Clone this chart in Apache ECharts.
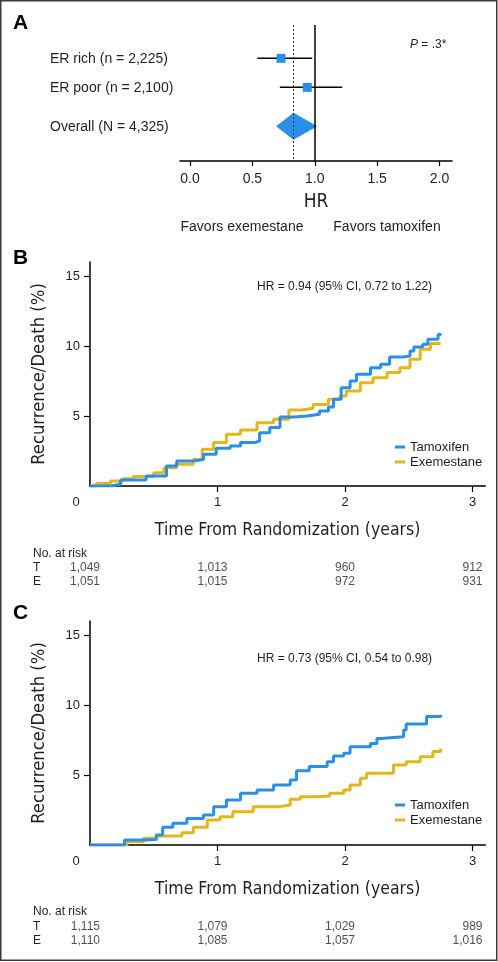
<!DOCTYPE html>
<html><head><meta charset="utf-8">
<script src="https://cdn.jsdelivr.net/npm/echarts@6/dist/echarts.min.js"></script>
<style>html,body{margin:0;padding:0;background:#fff}#c{width:498px;height:962px}</style>
</head><body><div id="c"></div>
<script>
// ---- Panel A data (forest plot) ----
const forestLabels = ['ER rich (n = 2,225)', 'ER poor (n = 2,100)', 'Overall (N = 4,325)'];
const forestHR = [0.73, 0.94, 0.83];
const forestLo = [0.54, 0.72, 0.69];
const forestHi = [0.98, 1.22, 1.02];
const forestIsOverall = [0, 0, 1];
const forestTicks = [0, 0.5, 1, 1.5, 2];
const overallHR = 0.83;
const pText = '= .3*';

// ---- Panel B data (ER poor) ----
const bTamoxifen = [[0,0],[0.16,0.12],[0.24,0.43],[0.44,0.71],[0.6,1.43],[0.68,1.79],[0.81,1.9],[0.89,2.26],[0.99,2.69],[1.1,2.86],[1.18,3.1],[1.29,3.21],[1.33,3.81],[1.41,4.17],[1.49,4.93],[1.6,5.0],[1.7,5.12],[1.8,5.36],[1.87,5.64],[1.91,6.19],[1.97,7.02],[2.04,7.5],[2.09,7.98],[2.2,8.45],[2.28,8.69],[2.35,9.21],[2.46,9.29],[2.51,9.64],[2.54,9.93],[2.61,10.12],[2.65,10.48],[2.73,10.83],[2.75,10.9]];
const bExemestane = [[0,0],[0.05,0.17],[0.16,0.36],[0.26,0.52],[0.34,0.67],[0.5,0.95],[0.58,1.31],[0.68,1.55],[0.81,1.9],[0.88,2.62],[0.97,3.1],[1.07,3.69],[1.18,4.0],[1.31,4.52],[1.44,4.76],[1.56,5.43],[1.66,5.55],[1.75,5.83],[1.87,6.19],[1.96,6.43],[2.01,6.79],[2.12,7.38],[2.22,7.74],[2.33,8.1],[2.43,8.45],[2.51,9.05],[2.59,9.76],[2.67,10.17],[2.75,10.2]];
const bHRText = 'HR = 0.94 (95% CI, 0.72 to 1.22)';
const bRiskT = ['1,049', '1,013', '960', '912'];
const bRiskE = ['1,051', '1,015', '972', '931'];

// ---- Panel C data (ER rich) ----
const cTamoxifen = [[0,0],[0.27,0.36],[0.42,0.4],[0.52,0.71],[0.57,1.26],[0.65,1.55],[0.76,1.9],[0.89,2.14],[0.97,2.74],[1.07,3.21],[1.18,3.69],[1.31,3.93],[1.44,4.29],[1.57,4.64],[1.62,5.3],[1.72,5.6],[1.86,5.95],[1.91,6.36],[1.99,6.55],[2.04,7.02],[2.2,7.25],[2.25,7.6],[2.28,7.74],[2.46,8.21],[2.48,8.64],[2.64,9.17],[2.75,9.3]];
const cExemestane = [[0,0],[0.29,0.24],[0.42,0.48],[0.52,0.64],[0.72,0.88],[0.81,1.26],[0.92,1.79],[1.02,2.02],[1.12,2.38],[1.28,2.74],[1.49,2.86],[1.57,3.26],[1.65,3.45],[1.78,3.5],[1.88,3.69],[1.99,3.93],[2.04,4.29],[2.12,4.76],[2.17,5.12],[2.34,5.12],[2.38,5.71],[2.48,5.95],[2.59,6.31],[2.69,6.67],[2.75,6.9]];
const cHRText = 'HR = 0.73 (95% CI, 0.54 to 0.98)';
const cRiskT = ['1,115', '1,079', '1,029', '989'];
const cRiskE = ['1,110', '1,085', '1,057', '1,016'];

const riskTimes = [0, 1, 2, 3];
const yTicks = [5, 10, 15];
const xTicks = [0, 1, 2, 3];
const seriesNames = ['Tamoxifen', 'Exemestane'];

// ---- styling / layout ----
const BLUE = '#2b8fe8', YELLOW = '#e2b71c', INK = '#231f20';
const SANS = "'Liberation Sans', Arial, sans-serif";
const NARROW = "'Liberation Sans Narrow', 'DejaVu Sans Condensed', 'Liberation Sans', sans-serif";
const ROWS = [1, 2, 3.34];
const PX_PER_YEAR = 127.5;

const chart = echarts.init(document.getElementById('c'), null, {renderer: 'canvas'});

function kmXAxis(gi) {
  return {
    gridIndex: gi, type: 'value', min: 0, max: 3.1,
    axisLine: {onZero: false, lineStyle: {color: '#000', width: 1.5}},
    axisTick: {customValues: [1, 2, 3], length: 6, lineStyle: {color: '#000', width: 1.2}},
    axisLabel: {customValues: xTicks, fontSize: 13, color: INK, margin: 10,
      formatter: v => v === 0 ? '{o|0}' : String(v),
      rich: {o: {fontSize: 13, color: INK, padding: [0, 28, 0, 0]}}},
    splitLine: {show: false},
    name: 'Time From Randomization (years)', nameLocation: 'middle', nameGap: 35,
    nameTextStyle: {fontSize: 17.5, fontFamily: NARROW, color: INK}
  };
}
function kmYAxis(gi) {
  return {
    gridIndex: gi, type: 'value', min: 0, max: 16,
    axisLine: {onZero: false, lineStyle: {color: '#000', width: 1.5}},
    axisTick: {customValues: yTicks, length: 6, lineStyle: {color: '#000', width: 1.2}},
    axisLabel: {customValues: yTicks, fontSize: 13, color: INK, margin: 10},
    splitLine: {show: false},
    name: 'Recurrence/Death (%)', nameLocation: 'middle', nameGap: 42,
    nameTextStyle: {fontSize: 18.3, fontFamily: NARROW, color: INK}
  };
}
function riskXAxis(gi) {
  return {gridIndex: gi, type: 'value', min: 0, max: 3.1, show: false};
}
function riskYAxis(gi) {
  return {gridIndex: gi, type: 'category', data: ['T', 'E'], inverse: true,
    axisLine: {show: false}, axisTick: {show: false}, splitLine: {show: false},
    axisLabel: {interval: 0, align: 'left', margin: 57, fontSize: 12, color: INK}};
}
function kmLine(name, data, color, xi) {
  return {name, type: 'line', xAxisIndex: xi, yAxisIndex: xi, data, step: 'end',
    showSymbol: false, symbol: 'none', color, lineStyle: {color, width: 3},
    silent: true, z: name === 'Tamoxifen' ? 4 : 3};
}
function riskSeries(vals, row, xi) {
  return {type: 'scatter', xAxisIndex: xi, yAxisIndex: xi, symbolSize: 0, silent: true,
    data: riskTimes.map((t, i) => [t, row, vals[i]]),
    label: {show: true, position: 'inside', align: 'right', verticalAlign: 'middle',
      offset: [10, 0], fontSize: 12, color: INK, formatter: p => p.value[2]}};
}
function legendAt(top) {
  return {data: seriesNames, orient: 'vertical', left: 395, top, padding: 0, itemWidth: 10, itemHeight: 3,
    itemGap: 2, icon: 'rect', textStyle: {fontSize: 13, color: INK}, selectedMode: false};
}

const option = {
  animation: false,
  textStyle: {fontFamily: SANS, color: INK},
  grid: [
    {left: 180, top: 25, width: 272, height: 136, outerBoundsMode: 'none'},
    {left: 90, top: 262, width: 3.1 * PX_PER_YEAR, height: 224, outerBoundsMode: 'none'},
    {left: 90, top: 621, width: 3.1 * PX_PER_YEAR, height: 224, outerBoundsMode: 'none'},
    {left: 90, top: 561, width: 3.1 * PX_PER_YEAR, height: 28, outerBoundsMode: 'none'},
    {left: 90, top: 920, width: 3.1 * PX_PER_YEAR, height: 28, outerBoundsMode: 'none'}
  ],
  xAxis: [
    {gridIndex: 0, type: 'value', min: -0.08, max: 2.1, position: 'bottom',
      axisLine: {onZero: false, lineStyle: {color: '#000', width: 1.5}},
      axisTick: {customValues: forestTicks, length: 5, lineStyle: {color: '#000', width: 1.2}},
      axisLabel: {customValues: forestTicks, fontSize: 14, color: INK, margin: 11, formatter: v => v.toFixed(1)},
      splitLine: {show: false},
      name: 'HR', nameLocation: 'middle', nameGap: 32,
      nameTextStyle: {fontSize: 19, fontFamily: NARROW, color: INK}},
    kmXAxis(1), kmXAxis(2), riskXAxis(3), riskXAxis(4)
  ],
  yAxis: [
    {gridIndex: 0, type: 'value', inverse: true, min: -0.15, max: 4.54, show: false},
    kmYAxis(1), kmYAxis(2), riskYAxis(3), riskYAxis(4)
  ],
  legend: [legendAt(440.5), legendAt(798.5)],
  series: [
    {type: 'custom', xAxisIndex: 0, yAxisIndex: 0, clip: false, silent: true,
      data: forestHR.map((hr, i) => [hr, ROWS[i], forestLo[i], forestHi[i], forestIsOverall[i], i]),
      encode: {x: 0, y: 1},
      renderItem: function (params, api) {
        const row = api.value(1);
        const c = api.coord([api.value(0), row]);
        const l = api.coord([api.value(2), row]);
        const h = api.coord([api.value(3), row]);
        const idx = api.value(5);
        const children = [{type: 'text', x: 50, y: c[1] + 1,
          style: {text: forestLabels[idx], font: '14px ' + SANS, fill: INK, align: 'left', verticalAlign: 'middle'}}];
        if (api.value(4) === 1) {
          children.push({type: 'polygon', shape: {points: [[l[0], c[1]], [c[0], c[1] - 13.5], [h[0], c[1]], [c[0], c[1] + 13.5]]},
            style: {fill: BLUE}});
        } else {
          children.push({type: 'line', shape: {x1: l[0], y1: c[1], x2: h[0], y2: c[1]}, style: {stroke: '#000', lineWidth: 1.5}});
          children.push({type: 'rect', shape: {x: c[0] - 4.5, y: c[1] - 4.5, width: 9, height: 9}, style: {fill: BLUE}});
        }
        return {type: 'group', children};
      },
      markLine: {silent: true, symbol: 'none', label: {show: false},
        data: [
          {xAxis: 1, lineStyle: {color: '#000', width: 1.5, type: 'solid'}},
          {xAxis: overallHR, lineStyle: {color: '#333', width: 1, type: [2, 2]}}
        ]}
    },
    kmLine('Exemestane', bExemestane, YELLOW, 1),
    kmLine('Tamoxifen', bTamoxifen, BLUE, 1),
    kmLine('Exemestane', cExemestane, YELLOW, 2),
    kmLine('Tamoxifen', cTamoxifen, BLUE, 2),
    riskSeries(bRiskT, 'T', 3), riskSeries(bRiskE, 'E', 3),
    riskSeries(cRiskT, 'T', 4), riskSeries(cRiskE, 'E', 4)
  ],
  graphic: [
    {type: 'rect', shape: {x: 0.75, y: 0.75, width: 496, height: 959.5}, style: {fill: 'none', stroke: '#3a3a3a', lineWidth: 1.5}, silent: true},
    {type: 'text', x: 13, y: 23, style: {text: 'A', font: 'bold 21px ' + SANS, fill: '#000', verticalAlign: 'middle'}},
    {type: 'text', x: 13, y: 258, style: {text: 'B', font: 'bold 21px ' + SANS, fill: '#000', verticalAlign: 'middle'}},
    {type: 'text', x: 13, y: 613, style: {text: 'C', font: 'bold 21px ' + SANS, fill: '#000', verticalAlign: 'middle'}},
    {type: 'text', x: 410, y: 45, style: {text: '{i|P} {n|' + pText + '}', fill: INK, verticalAlign: 'middle',
      rich: {i: {fontStyle: 'italic', fontSize: 12, fontFamily: SANS, fill: INK}, n: {fontSize: 12, fontFamily: SANS, fill: INK}}}},
    {type: 'text', x: 242, y: 227, style: {text: 'Favors exemestane', font: '14px ' + SANS, fill: INK, align: 'center', verticalAlign: 'middle'}},
    {type: 'text', x: 387, y: 227, style: {text: 'Favors tamoxifen', font: '14px ' + SANS, fill: INK, align: 'center', verticalAlign: 'middle'}},
    {type: 'text', x: 257, y: 287, style: {text: bHRText, font: '12px ' + SANS, fill: INK, verticalAlign: 'middle'}},
    {type: 'text', x: 257, y: 659, style: {text: cHRText, font: '12px ' + SANS, fill: INK, verticalAlign: 'middle'}},
    {type: 'text', x: 33, y: 554, style: {text: 'No. at risk', font: '12px ' + SANS, fill: INK, verticalAlign: 'middle'}},
    {type: 'text', x: 33, y: 912, style: {text: 'No. at risk', font: '12px ' + SANS, fill: INK, verticalAlign: 'middle'}}
  ]
};
chart.setOption(option);
</script>
</body></html>
